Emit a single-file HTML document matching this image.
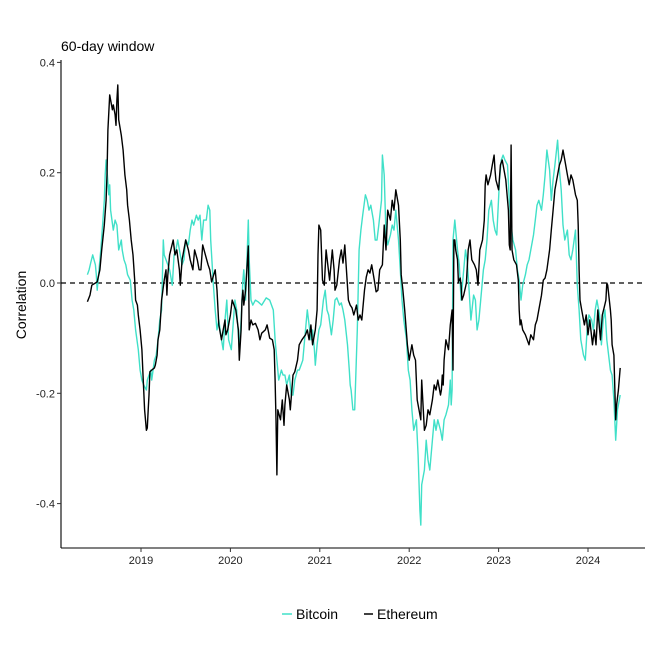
<!DOCTYPE html>
<html><head><meta charset="utf-8"><style>
html,body{margin:0;padding:0;background:#fff;}
svg{display:block;font-family:"Liberation Sans",Arial,sans-serif;}
</style></head><body>
<svg id="chart" width="661" height="661" viewBox="0 0 661 661">
<text x="61" y="51" font-size="14" fill="#000">60-day window</text>
<text transform="translate(26,305) rotate(-90)" text-anchor="middle" font-size="14" fill="#000">Correlation</text>
<g id="axes"></g>
<g id="series"></g>
<g>
<g><line x1="282" y1="614" x2="292" y2="614" stroke="#40E0C8" stroke-width="1.5"/><text x="296" y="619" font-size="14">Bitcoin</text></g>
<g><line x1="364" y1="614" x2="373" y2="614" stroke="#000" stroke-width="1.5"/><text x="377" y="619" font-size="14">Ethereum</text></g>
</g>
</svg>
<script>
const yTicks=[0.4,0.2,0.0,-0.2,-0.4];
const yTickLabels=["0.4","0.2","0.0","-0.2","-0.4"];
const xTicks=[2019,2020,2021,2022,2023,2024];
const xTickLabels=["2019","2020","2021","2022","2023","2024"];
const ethDates=[2018.40,2018.43,2018.45,2018.49,2018.51,2018.54,2018.56,2018.59,2018.61,2018.62,2018.63,2018.65,2018.66,2018.68,2018.69,2018.71,2018.72,2018.73,2018.74,2018.75,2018.78,2018.80,2018.82,2018.84,2018.85,2018.87,2018.88,2018.89,2018.91,2018.93,2018.94,2018.96,2018.97,2018.99,2019.01,2019.02,2019.03,2019.04,2019.06,2019.07,2019.08,2019.09,2019.10,2019.12,2019.15,2019.16,2019.18,2019.19,2019.21,2019.23,2019.26,2019.28,2019.29,2019.30,2019.32,2019.36,2019.38,2019.40,2019.43,2019.44,2019.46,2019.48,2019.50,2019.53,2019.55,2019.58,2019.60,2019.63,2019.65,2019.67,2019.69,2019.72,2019.75,2019.77,2019.79,2019.83,2019.85,2019.87,2019.90,2019.92,2019.94,2019.95,2019.97,2020.00,2020.02,2020.04,2020.06,2020.09,2020.10,2020.11,2020.12,2020.13,2020.14,2020.15,2020.17,2020.20,2020.21,2020.23,2020.25,2020.28,2020.31,2020.33,2020.35,2020.39,2020.41,2020.44,2020.47,2020.49,2020.50,2020.51,2020.52,2020.53,2020.56,2020.58,2020.60,2020.61,2020.63,2020.66,2020.67,2020.70,2020.72,2020.75,2020.77,2020.80,2020.84,2020.86,2020.88,2020.90,2020.92,2020.95,2020.97,2020.98,2020.99,2021.01,2021.03,2021.05,2021.07,2021.09,2021.11,2021.14,2021.16,2021.17,2021.19,2021.22,2021.24,2021.26,2021.28,2021.32,2021.34,2021.36,2021.38,2021.41,2021.43,2021.45,2021.47,2021.50,2021.52,2021.54,2021.56,2021.58,2021.61,2021.63,2021.65,2021.67,2021.70,2021.72,2021.74,2021.76,2021.79,2021.81,2021.83,2021.85,2021.88,2021.90,2021.91,2021.93,2021.95,2021.98,2022.00,2022.03,2022.05,2022.07,2022.09,2022.11,2022.13,2022.14,2022.17,2022.19,2022.21,2022.23,2022.26,2022.28,2022.30,2022.32,2022.35,2022.36,2022.37,2022.38,2022.39,2022.41,2022.44,2022.46,2022.48,2022.49,2022.50,2022.51,2022.52,2022.54,2022.55,2022.57,2022.58,2022.59,2022.61,2022.64,2022.66,2022.68,2022.70,2022.73,2022.75,2022.77,2022.79,2022.82,2022.84,2022.85,2022.86,2022.88,2022.91,2022.93,2022.95,2022.96,2022.97,2023.00,2023.02,2023.04,2023.06,2023.08,2023.11,2023.12,2023.13,2023.14,2023.15,2023.17,2023.20,2023.22,2023.23,2023.24,2023.25,2023.27,2023.30,2023.32,2023.34,2023.36,2023.39,2023.41,2023.43,2023.45,2023.48,2023.50,2023.52,2023.54,2023.57,2023.59,2023.61,2023.63,2023.66,2023.68,2023.70,2023.72,2023.74,2023.77,2023.79,2023.81,2023.83,2023.86,2023.88,2023.89,2023.90,2023.91,2023.93,2023.96,2023.98,2024.00,2024.02,2024.05,2024.07,2024.09,2024.11,2024.14,2024.16,2024.18,2024.20,2024.21,2024.22,2024.25,2024.26,2024.27,2024.29,2024.31,2024.32,2024.34,2024.36];
const ethValues=[-0.034,-0.022,-0.004,0,0.002,0.024,0.060,0.105,0.150,0.196,0.277,0.341,0.332,0.314,0.323,0.305,0.286,0.332,0.359,0.296,0.268,0.241,0.196,0.169,0.141,0.114,0.096,0.078,0.051,0.005,-0.031,-0.040,-0.058,-0.085,-0.121,-0.158,-0.194,-0.230,-0.267,-0.263,-0.230,-0.203,-0.161,-0.158,-0.154,-0.149,-0.131,-0.103,-0.085,-0.031,0.005,0.024,-0.022,0.014,0.051,0.078,0.051,0.060,0.024,-0.004,0.042,0.060,0.078,0.060,0.042,0.024,0.060,0.042,0.024,0.024,0.069,0.051,0.033,0.024,0.002,0.024,-0.013,-0.076,-0.103,-0.085,-0.067,-0.094,-0.085,-0.058,-0.031,-0.040,-0.049,-0.085,-0.140,-0.112,-0.085,-0.031,-0.013,-0.040,-0.013,0.067,-0.085,-0.067,-0.076,-0.073,-0.085,-0.103,-0.091,-0.085,-0.076,-0.100,-0.103,-0.121,-0.176,-0.248,-0.348,-0.230,-0.248,-0.212,-0.258,-0.221,-0.185,-0.212,-0.230,-0.167,-0.161,-0.140,-0.112,-0.103,-0.094,-0.085,-0.103,-0.076,-0.112,-0.085,-0.049,0.051,0.105,0.096,0.005,-0.004,0.060,0.033,0.005,0.060,0.024,-0.013,-0.004,0.042,0.060,0.036,0.069,-0.031,-0.040,-0.045,-0.058,-0.040,-0.067,-0.058,-0.067,-0.013,0.011,0.024,0.018,0.033,0.005,-0.016,-0.013,0.024,0.033,0.105,0.060,0.132,0.114,0.150,0.132,0.169,0.141,0.078,0.015,-0.013,-0.049,-0.112,-0.140,-0.112,-0.131,-0.140,-0.212,-0.230,-0.248,-0.176,-0.267,-0.258,-0.230,-0.239,-0.212,-0.185,-0.194,-0.176,-0.203,-0.194,-0.167,-0.185,-0.140,-0.103,-0.121,-0.076,-0.049,-0.158,0.078,0.078,0.060,0.042,0.002,0.009,-0.004,-0.031,-0.022,0,0.060,0.078,0.042,0.033,0.024,-0.004,0.060,0.078,0.114,0.178,0.196,0.178,0.196,0.214,0.232,0.205,0.187,0.169,0.214,0.223,0.205,0.187,0.132,0.069,0.060,0.250,0.060,0.042,0.033,0.005,-0.049,-0.076,-0.067,-0.085,-0.094,-0.103,-0.112,-0.094,-0.103,-0.076,-0.067,-0.049,-0.022,0.005,0.009,0.024,0.060,0.096,0.132,0.169,0.196,0.214,0.223,0.241,0.223,0.196,0.178,0.196,0.187,0.160,0.150,0.105,0.024,-0.031,-0.049,-0.076,-0.058,-0.094,-0.067,-0.112,-0.085,-0.112,-0.049,-0.103,-0.058,-0.045,-0.031,0,-0.004,-0.049,-0.067,-0.112,-0.131,-0.248,-0.221,-0.194,-0.154];
const btcDates=[2018.40,2018.42,2018.44,2018.46,2018.49,2018.50,2018.51,2018.53,2018.55,2018.57,2018.59,2018.60,2018.61,2018.62,2018.64,2018.65,2018.66,2018.69,2018.71,2018.73,2018.75,2018.78,2018.79,2018.81,2018.83,2018.85,2018.88,2018.90,2018.92,2018.94,2018.97,2018.99,2019.01,2019.03,2019.06,2019.07,2019.09,2019.11,2019.12,2019.15,2019.17,2019.19,2019.21,2019.23,2019.25,2019.26,2019.28,2019.30,2019.32,2019.35,2019.37,2019.39,2019.41,2019.44,2019.46,2019.48,2019.50,2019.53,2019.55,2019.57,2019.59,2019.62,2019.64,2019.66,2019.68,2019.70,2019.73,2019.75,2019.77,2019.78,2019.81,2019.83,2019.85,2019.87,2019.90,2019.92,2019.94,2019.96,2019.98,2020.01,2020.03,2020.05,2020.07,2020.10,2020.12,2020.13,2020.14,2020.15,2020.17,2020.20,2020.21,2020.23,2020.25,2020.28,2020.31,2020.35,2020.40,2020.44,2020.48,2020.50,2020.52,2020.54,2020.57,2020.59,2020.61,2020.63,2020.66,2020.68,2020.70,2020.72,2020.75,2020.77,2020.79,2020.81,2020.84,2020.86,2020.88,2020.90,2020.92,2020.94,2020.95,2020.97,2020.99,2021.01,2021.04,2021.06,2021.08,2021.10,2021.13,2021.15,2021.17,2021.19,2021.22,2021.24,2021.26,2021.28,2021.31,2021.33,2021.34,2021.35,2021.37,2021.39,2021.42,2021.44,2021.46,2021.48,2021.51,2021.53,2021.55,2021.57,2021.60,2021.62,2021.64,2021.66,2021.69,2021.70,2021.71,2021.72,2021.74,2021.76,2021.79,2021.81,2021.83,2021.85,2021.88,2021.90,2021.92,2021.94,2021.97,2021.99,2022.01,2022.03,2022.05,2022.08,2022.10,2022.12,2022.13,2022.14,2022.17,2022.19,2022.21,2022.23,2022.26,2022.28,2022.30,2022.32,2022.35,2022.37,2022.39,2022.41,2022.44,2022.46,2022.47,2022.48,2022.49,2022.51,2022.54,2022.56,2022.58,2022.60,2022.63,2022.65,2022.67,2022.69,2022.72,2022.74,2022.76,2022.78,2022.80,2022.83,2022.85,2022.87,2022.89,2022.92,2022.94,2022.96,2022.98,2023.01,2023.03,2023.05,2023.07,2023.10,2023.12,2023.14,2023.16,2023.19,2023.21,2023.23,2023.25,2023.27,2023.30,2023.32,2023.34,2023.36,2023.39,2023.41,2023.43,2023.45,2023.48,2023.50,2023.52,2023.54,2023.57,2023.59,2023.61,2023.63,2023.66,2023.68,2023.70,2023.72,2023.74,2023.77,2023.79,2023.81,2023.83,2023.86,2023.88,2023.90,2023.92,2023.95,2023.97,2023.99,2024.01,2024.04,2024.06,2024.08,2024.10,2024.13,2024.15,2024.17,2024.19,2024.21,2024.25,2024.27,2024.29,2024.31,2024.33,2024.36];
const btcValues=[0.015,0.024,0.038,0.051,0.033,0.015,-0.013,0.024,0.060,0.105,0.150,0.196,0.223,0.205,0.160,0.178,0.132,0.096,0.114,0.105,0.060,0.078,0.060,0.042,0.033,0.015,0.005,-0.031,-0.049,-0.085,-0.121,-0.158,-0.176,-0.185,-0.194,-0.176,-0.167,-0.158,-0.176,-0.140,-0.131,-0.103,-0.067,-0.049,0.078,0.051,0.042,0.033,0.024,-0.004,0.051,0.060,0.078,0.051,0.033,0.042,0.078,0.069,0.096,0.114,0.105,0.123,0.114,0.123,0.078,0.114,0.114,0.141,0.132,0.078,-0.004,-0.049,-0.085,-0.067,-0.103,-0.121,-0.067,-0.031,-0.103,-0.121,-0.076,-0.031,-0.049,-0.121,-0.067,-0.031,0.005,0.024,-0.031,0.114,0.042,-0.031,-0.040,-0.031,-0.034,-0.040,-0.027,-0.031,-0.049,-0.103,-0.140,-0.176,-0.158,-0.167,-0.167,-0.185,-0.167,-0.203,-0.203,-0.176,-0.158,-0.158,-0.149,-0.140,-0.085,-0.049,-0.076,-0.103,-0.085,-0.121,-0.149,-0.112,-0.085,-0.076,-0.031,-0.013,-0.049,-0.058,-0.094,-0.067,-0.031,-0.027,-0.040,-0.036,-0.049,-0.067,-0.112,-0.158,-0.185,-0.194,-0.230,-0.230,-0.085,0.060,0.096,0.123,0.160,0.150,0.132,0.141,0.114,0.078,0.078,0.105,0.150,0.232,0.214,0.196,0.087,0.069,0.087,0.105,0.096,0.132,0.078,0.024,-0.031,-0.067,-0.103,-0.158,-0.176,-0.230,-0.267,-0.248,-0.312,-0.412,-0.439,-0.366,-0.339,-0.285,-0.321,-0.339,-0.285,-0.248,-0.267,-0.248,-0.267,-0.285,-0.248,-0.239,-0.221,-0.176,-0.221,-0.194,0.078,0.114,0.060,0.033,-0.031,0.005,0.060,0.038,-0.013,-0.067,-0.022,-0.031,-0.085,-0.067,-0.031,0.024,0.042,0.078,0.132,0.150,0.114,0.096,0.087,0.187,0.223,0.232,0.223,0.214,0.150,0.105,0.078,0.060,0.024,0.005,-0.031,-0.004,0.015,0.033,0.042,0.060,0.087,0.114,0.141,0.150,0.132,0.160,0.196,0.241,0.205,0.150,0.187,0.214,0.259,0.205,0.169,0.105,0.078,0.096,0.051,0.042,0.060,0.096,-0.004,-0.049,-0.103,-0.131,-0.140,-0.085,-0.058,-0.067,-0.085,-0.049,-0.031,-0.058,-0.112,-0.067,-0.049,-0.103,-0.158,-0.167,-0.212,-0.285,-0.230,-0.203];

const X0=61,X1=645,Y0=60,Y1=548;
function xScale(d){return 141+(d-2019)*89.4;}
function yScale(v){return 283-v*551.5;}
const NS="http://www.w3.org/2000/svg";
const axes=document.getElementById('axes');
const series=document.getElementById('series');
function mk(tag,attrs,parent){const e=document.createElementNS(NS,tag);for(const k in attrs)e.setAttribute(k,attrs[k]);parent.appendChild(e);return e;}

const zl=mk('line',{x1:X0,x2:X1,y1:yScale(0),y2:yScale(0),stroke:'#000','stroke-width':1.2,'stroke-dasharray':'5,4'},axes);


const ya=mk('line',{x1:X0,x2:X0,y1:Y0,y2:Y1,stroke:'#000','stroke-width':1.1},axes);


const xa=mk('line',{x1:X0,x2:X1,y1:Y1,y2:Y1,stroke:'#000','stroke-width':1.1},axes);


yTicks.forEach((v,i)=>{
  const y=yScale(v);
  mk('line',{x1:X0-4,x2:X0,y1:y,y2:y,stroke:'#333','stroke-width':1},axes);
  const t=mk('text',{x:X0-6,y:y+4,'text-anchor':'end','font-size':11,fill:'#222'},axes);
  t.textContent=yTickLabels[i];
  
  
});
xTicks.forEach((d,i)=>{
  const x=xScale(d);
  mk('line',{x1:x,x2:x,y1:Y1,y2:Y1+4,stroke:'#333','stroke-width':1},axes);
  const t=mk('text',{x:x,y:Y1+16,'text-anchor':'middle','font-size':11,fill:'#222'},axes);
  t.textContent=xTickLabels[i];
  
  
});
function pathFor(ds,vs){return ds.map((d,i)=>(i?'L':'M')+xScale(d).toFixed(1)+','+yScale(vs[i]).toFixed(1)).join('');}
const bp=mk('path',{d:pathFor(btcDates,btcValues),fill:'none',stroke:'#40E0C8','stroke-width':1.4,'stroke-linejoin':'round'},series);


const ep=mk('path',{d:pathFor(ethDates,ethValues),fill:'none',stroke:'#000','stroke-width':1.4,'stroke-linejoin':'round'},series);


</script>
</body></html>
